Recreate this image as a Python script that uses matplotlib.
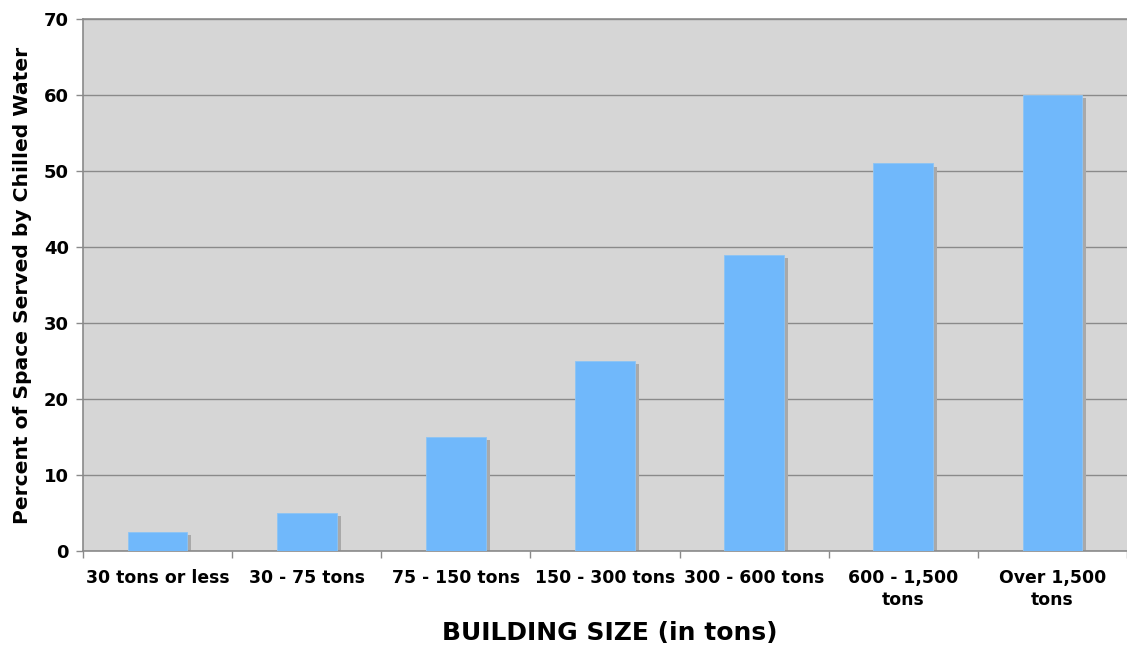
import numpy as np
import matplotlib.pyplot as plt

categories = ["30 tons or less", "30 - 75 tons", "75 - 150 tons", "150 - 300 tons",
              "300 - 600 tons", "600 - 1,500\ntons", "Over 1,500\ntons"]
percent_chilled = [2.5, 5, 15, 25, 39, 51, 60]
yticks = [0, 10, 20, 30, 40, 50, 60, 70]

plt.rcParams['font.family'] = ['DejaVu Sans']
plt.rcParams['font.weight'] = 'bold'

fig = plt.figure(figsize=(11.27, 6.47), dpi=100)
ax = fig.add_axes([83 / 1127, 96 / 647, 1 - 83 / 1127, 532 / 647])
ax.set_facecolor('#d6d6d6')

x = np.arange(len(categories))
vals = np.array(percent_chilled)
width = 0.4

# drop shadow behind each bar
ax.bar(x + 0.027, vals - 0.45, width, color='#a9a9a9', zorder=2)
ax.bar(x, vals, width, color='#70b8fb', edgecolor='#8cc4f5', linewidth=0.6, zorder=3)

ax.set_ylim(0, 70)
ax.set_yticks(yticks)
ax.yaxis.grid(True, color='#8a8a8a', linewidth=1.0, zorder=1)
ax.set_axisbelow(True)

ax.set_xlim(-0.5, 6.434)
ax.set_xticks(np.arange(len(categories) + 1) - 0.5, minor=False)
ax.set_xticklabels([])
ax.set_xticks(x, minor=True)
ax.set_xticklabels(categories, minor=True, fontsize=12.4, fontweight='bold',
                   linespacing=1.25)
ax.tick_params(axis='x', which='minor', length=0, pad=13)
ax.tick_params(axis='x', which='major', length=5, color='#8a8a8a', width=1)
ax.tick_params(axis='y', length=5, color='#8a8a8a', width=1, labelsize=13, pad=5)
for lbl in ax.get_yticklabels():
    lbl.set_fontweight('bold')

for side in ['left', 'bottom', 'top']:
    ax.spines[side].set_color('#8a8a8a')
    ax.spines[side].set_linewidth(1.2)
ax.spines['right'].set_visible(False)

ax.set_ylabel('Percent of Space Served by Chilled Water', fontsize=14.6,
              fontweight='bold', labelpad=9)
fig.text(610 / 1127, 7 / 647, 'BUILDING SIZE (in tons)', fontsize=18,
         fontweight='bold', ha='center', va='baseline')

fig.savefig('out.png', dpi=100)
